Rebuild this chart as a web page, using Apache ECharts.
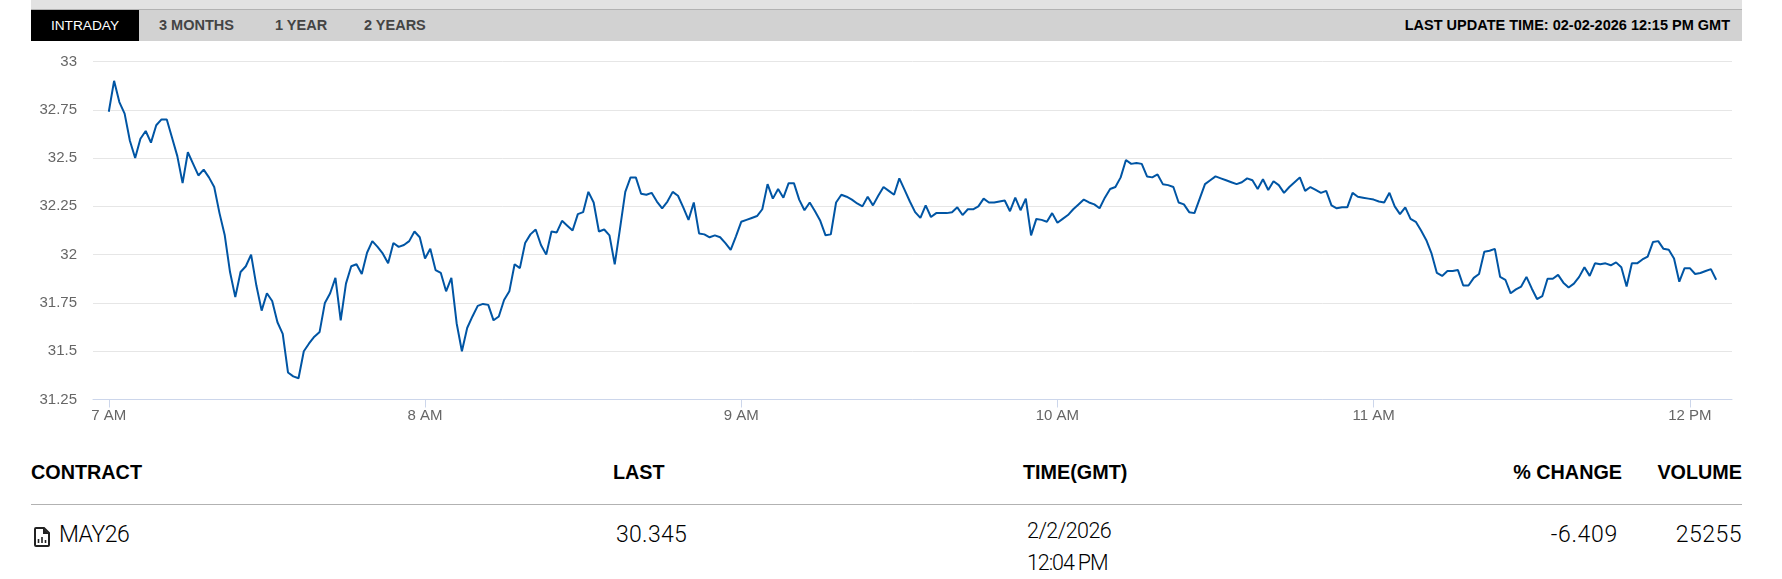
<!DOCTYPE html>
<html>
<head>
<meta charset="utf-8">
<title>Intraday</title>
<script src="https://cdn.jsdelivr.net/npm/echarts@6/dist/echarts.min.js"></script>
<style>
  html, body { margin: 0; padding: 0; background: #fff; }
  body { position: relative; width: 1782px; height: 579px; overflow: hidden; font-family: "Liberation Sans", Arial, sans-serif; }
  .topband { position: absolute; left: 31px; width: 1711px; top: 0; height: 9px; background: #e2e2e2; border-bottom: 1px solid #b2b2b2; }
  .tabs { position: absolute; left: 31px; width: 1711px; top: 10px; height: 31px; background: #d2d2d2; }
  .tab { position: absolute; top: 0; line-height: 31px; font-size: 14.5px; font-weight: bold; color: #444; white-space: nowrap; }
  .tab.on { left: 0; width: 108px; text-align: center; background: #000; color: #fff; font-weight: normal; font-size: 13.7px; }
  .update { position: absolute; right: 12px; top: 0; line-height: 31px; font-size: 14.5px; font-weight: bold; color: #000; white-space: nowrap; }
  #echart-line { position: absolute; left: 0; top: 41px; width: 1782px; height: 400px; }
  .th, .td { position: absolute; white-space: nowrap; color: #000; }
  .th { top: 461px; line-height: 22px; font-size: 19.8px; font-weight: bold; }
  .td { font-family: Roboto, sans-serif; font-weight: 300; font-size: 23px; line-height: 26px; }
  .rule { position: absolute; left: 31px; width: 1711px; top: 504px; height: 1px; background: #b2b2b2; }
  .icon { position: absolute; left: 34px; top: 527px; }
</style>
</head>
<body>
<div class="topband"></div>
<div class="tabs">
  <div class="tab on">INTRADAY</div>
  <div class="tab" style="left:128px">3 MONTHS</div>
  <div class="tab" style="left:244px">1 YEAR</div>
  <div class="tab" style="left:333px">2 YEARS</div>
  <div class="update">LAST UPDATE TIME: 02-02-2026 12:15 PM GMT</div>
</div>

<div id="echart-line"></div>

<div class="th" style="left:31px">CONTRACT</div>
<div class="th" style="left:613px">LAST</div>
<div class="th" style="left:1023px">TIME(GMT)</div>
<div class="th" style="right:160px">% CHANGE</div>
<div class="th" style="right:40px">VOLUME</div>
<div class="rule"></div>
<svg class="icon" width="17" height="20" viewBox="0 0 17 20">
  <path d="M2 1h8l5 5v12a1 1 0 0 1-1 1H2a1 1 0 0 1-1-1V2a1 1 0 0 1 1-1z" fill="none" stroke="#222" stroke-width="2"/>
  <path d="M9 1v6h6z" fill="#222"/>
  <path d="M4.5 16v-4M8 16v-6M11.5 16v-3" stroke="#222" stroke-width="1.6"/>
</svg>
<div class="td" style="left:59px;top:522px;letter-spacing:-0.5px">MAY26</div>
<div class="td" style="left:616px;top:522px;letter-spacing:0.3px">30.345</div>
<div class="td" style="left:1027px;top:518px;font-size:21.5px;letter-spacing:-0.55px">2/2/2026</div>
<div class="td" style="left:1027px;top:550px;font-size:21.5px;letter-spacing:-1.1px">12:04 PM</div>
<div class="td" style="right:164px;top:522px;letter-spacing:0.7px">-6.409</div>
<div class="td" style="right:40px;top:522px;letter-spacing:0.5px">25255</div>

<script>
// one price per minute from 7:00
var startHour = 7
var prices = [
  32.74,32.90,32.79,32.73,32.59,32.50,32.60,32.64,32.58,32.67,32.70,32.70,32.605,32.51,32.37,32.53,32.47,32.41,32.44,32.40,
  32.35,32.215,32.10,31.91,31.78,31.91,31.94,32.00,31.84,31.71,31.80,31.76,31.65,31.59,31.39,31.37,31.36,31.50,31.54,31.575,
  31.60,31.75,31.80,31.88,31.66,31.85,31.94,31.95,31.90,32.01,32.07,32.04,32.005,31.955,32.06,32.04,32.05,32.07,32.12,32.09,
  31.98,32.03,31.92,31.905,31.81,31.88,31.645,31.50,31.62,31.68,31.735,31.745,31.74,31.66,31.68,31.765,31.81,31.95,31.93,32.06,
  32.105,32.13,32.05,32.00,32.12,32.115,32.175,32.15,32.125,32.21,32.22,32.325,32.27,32.12,32.13,32.10,31.95,32.135,32.325,32.40,
  32.40,32.315,32.31,32.32,32.275,32.24,32.275,32.325,32.305,32.245,32.18,32.27,32.11,32.105,32.09,32.10,32.09,32.06,32.025,32.095,
  32.17,32.18,32.19,32.20,32.235,32.365,32.29,32.34,32.295,32.37,32.37,32.285,32.23,32.27,32.225,32.175,32.10,32.105,32.27,32.31,
  32.30,32.285,32.265,32.25,32.30,32.255,32.305,32.35,32.33,32.31,32.395,32.335,32.275,32.22,32.19,32.255,32.195,32.215,32.215,32.215,
  32.22,32.245,32.205,32.235,32.235,32.25,32.29,32.27,32.27,32.275,32.28,32.225,32.295,32.23,32.29,32.10,32.185,32.18,32.17,32.215,
  32.165,32.185,32.205,32.235,32.26,32.285,32.27,32.26,32.24,32.295,32.34,32.35,32.40,32.49,32.47,32.475,32.47,32.405,32.40,32.415,
  32.365,32.36,32.35,32.27,32.26,32.22,32.215,32.29,32.365,32.385,32.405,32.395,32.385,32.375,32.365,32.375,32.395,32.385,32.34,32.39,
  32.335,32.38,32.36,32.32,32.35,32.375,32.40,32.33,32.35,32.335,32.32,32.33,32.255,32.24,32.245,32.245,32.32,32.30,32.295,32.29,
  32.285,32.275,32.27,32.32,32.25,32.21,32.245,32.185,32.17,32.125,32.075,32.005,31.905,31.89,31.915,31.915,31.92,31.84,31.84,31.88,
  31.90,32.015,32.02,32.03,31.885,31.87,31.80,31.82,31.835,31.885,31.825,31.77,31.785,31.875,31.875,31.895,31.855,31.83,31.85,31.885,
  31.935,31.89,31.955,31.95,31.955,31.945,31.96,31.935,31.835,31.955,31.955,31.975,31.99,32.065,32.07,32.03,32.025,31.98,31.86,31.93,
  31.93,31.90,31.905,31.915,31.925,31.87
]
var yTicks = [31.25, 31.5, 31.75, 32, 32.25, 32.5, 32.75, 33]

function minuteTime(m) {
  return new Date(2026, 1, 2, startHour, m).getTime()
}

var data = []
prices.forEach((p, i) => {
  data.push([minuteTime(i), p])
})

var getchart = echarts.init(document.getElementById('echart-line'))
var axisFont = '"Liberation Sans", Arial, sans-serif'
var option = {
  animation: false,
  tooltip: { trigger: 'axis' },
  grid: { left: 93, right: 50, top: 20.5, bottom: 41.5 },
  xAxis: {
    type: 'time',
    min: minuteTime(-3),
    max: minuteTime(308.3),
    minInterval: 3600000,
    maxInterval: 3600000,
    splitLine: { show: false },
    axisLine: { lineStyle: { color: '#ccd6eb', width: 1 } },
    axisTick: { show: true, length: 8, lineStyle: { color: '#ccd6eb', width: 1 } },
    axisLabel: {
      color: '#666',
      fontSize: 15,
      fontFamily: axisFont,
      margin: 9,
      showMinLabel: false,
      showMaxLabel: false,
      formatter: function (v) {
        var h = new Date(v).getHours()
        return (h > 12 ? h - 12 : h) + (h >= 12 ? ' PM' : ' AM')
      }
    }
  },
  yAxis: {
    type: 'value',
    min: yTicks[0],
    max: yTicks[yTicks.length - 1],
    interval: 0.25,
    axisLine: { show: false },
    axisTick: { show: false },
    splitLine: { lineStyle: { color: '#e6e6e6', width: 1 } },
    axisLabel: { color: '#666', fontSize: 15, fontFamily: axisFont, margin: 16, padding: [0, 0, 2, 0] }
  },
  series: [
    {
      name: 'MAY26',
      type: 'line',
      data: data,
      showSymbol: false,
      smooth: false,
      lineStyle: { color: '#0055a4', width: 2 },
      itemStyle: { color: '#0055a4' }
    }
  ]
}
getchart.setOption(option)
window.addEventListener('resize', () => {
  getchart.resize()
})
</script>
</body>
</html>
